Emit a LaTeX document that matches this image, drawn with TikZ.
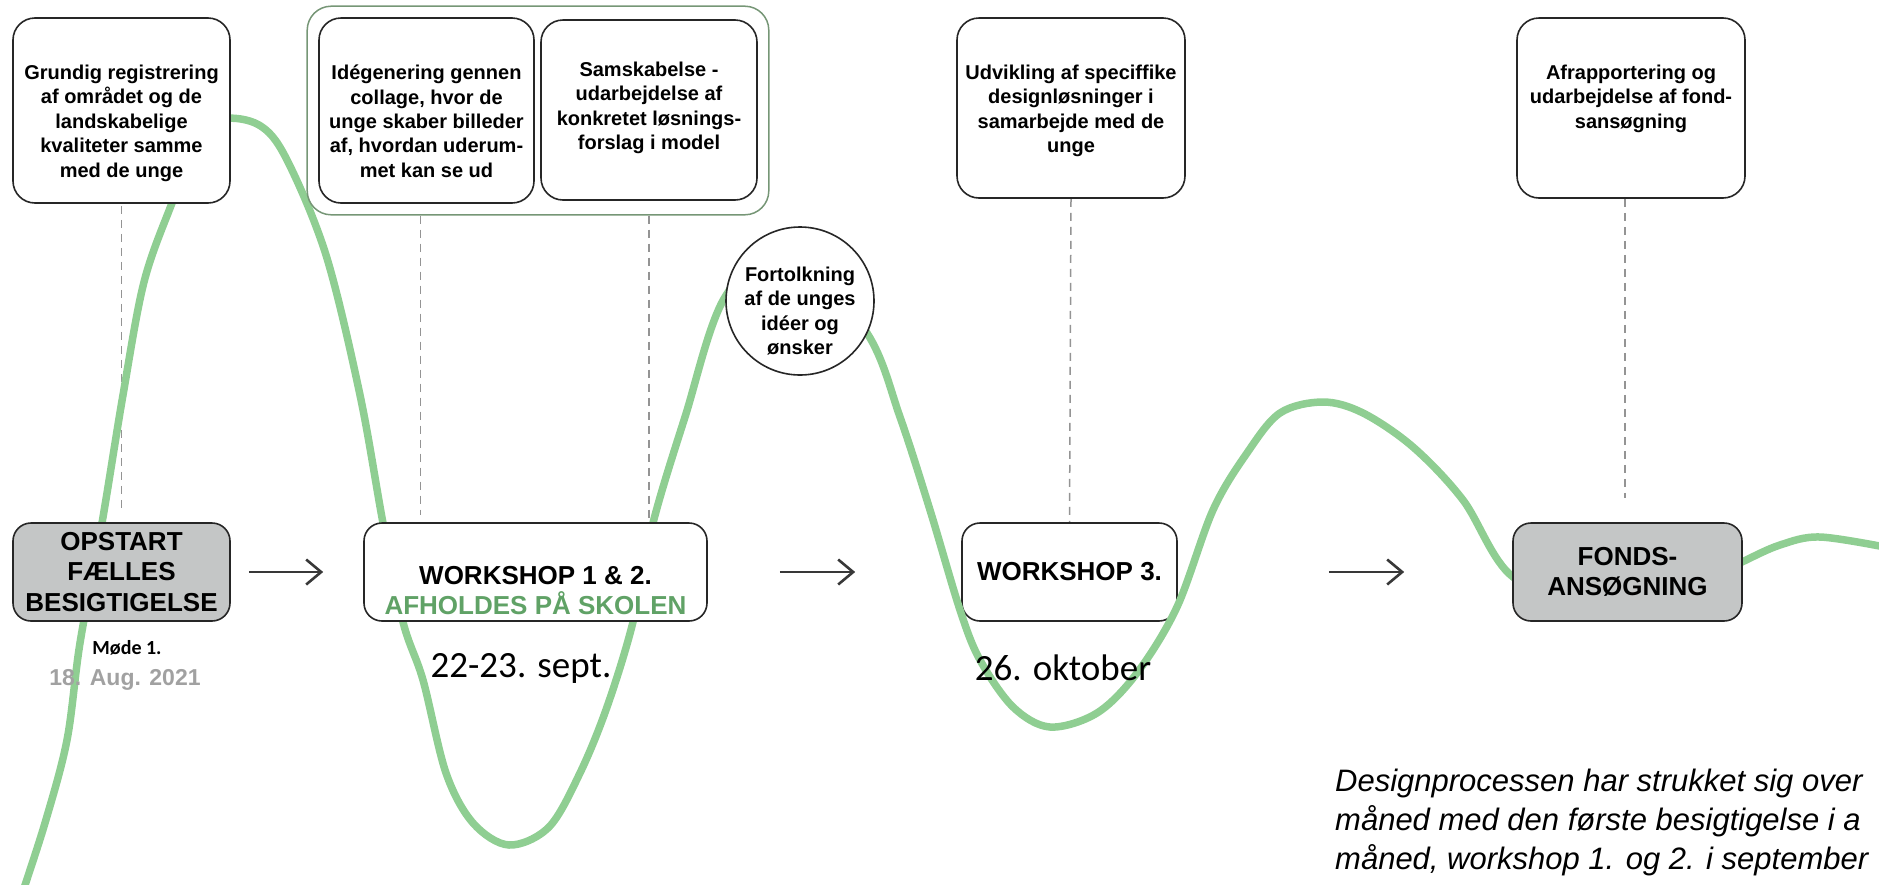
\documentclass[tikz,border=0pt]{standalone}
\usepackage{fontspec}
\setmainfont{Liberation Sans}
\newfontfamily\calibri{Carlito}
\usetikzlibrary{arrows.meta,fit,backgrounds}
\definecolor{curvegreen}{RGB}{143,206,146}
\definecolor{textgreen}{RGB}{96,162,102}
\definecolor{framegreen}{RGB}{118,150,118}
\definecolor{boxgray}{RGB}{196,198,198}
\newcommand{\toptext}[4]{\parbox[c][#2][t]{#1}{\vspace*{#3}\centering #4\par}}

\begin{document}
\begin{tikzpicture}[x=1pt, y=-1pt,
	topbox/.style={draw=black!85, line width=1.6pt, rounded corners=22pt, fill=white, inner sep=0pt,
		font=\bfseries\fontsize{20}{24.4}\selectfont},
	stagebox/.style={draw=black!85, line width=1.6pt, rounded corners=18pt, fill=white,
		minimum height=98pt, align=center, font=\bfseries\fontsize{26}{30.5}\selectfont},
	guide/.style={black!42, line width=1.5pt, dash pattern=on 8pt off 6pt},
	flow/.style={-{Straight Barb[length=15pt,width=25pt]}, line width=2.6pt, black!78},
	datelabel/.style={font=\calibri\fontsize{37}{40}\selectfont}]
		\useasboundingbox (0,0) rectangle (1879,884);
		
		\node[stagebox, minimum width=215pt] (ws3) at (1069.5,572) {WORKSHOP 3.};
		
		\draw[curvegreen, line width=7.5pt] plot[smooth, tension=0.55] coordinates {
			(20,900) (45,823) (67,740) (80,643) (102,523) (123,395) (144,282)
			(172,203) (198,140) (222,119) (259,125) (286,158) (326,255) (360,395)
			(383,523) (403,622) (423,680) (446,773) (473,823) (509,845) (549,827)
			(580,773) (607,707) (633,622) (653,523) (685,417) (725,297) (790,245)
			(867,333) (900,417) (930,510) (960,610) (980,660) (1013,707) (1050,727)
			(1097,713) (1137,673) (1177,607) (1213,510) (1247,453) (1280,413)
			(1323,402) (1363,413) (1413,447) (1463,500) (1513,577) (1600,604)
			(1690,588) (1742,562) (1780,545) (1820,537) (1890,548)};
		
		\node[topbox] (grundig) at (121.5,110.5) {\toptext{217pt}{185pt}{47pt}{Grundig registrering\\af området og de\\landskabelige\\kvaliteter samme\\med de unge}};
		\node[topbox] (idegen) at (426.5,110.5) {\toptext{215pt}{185pt}{47pt}{Idégenering gennen\\collage, hvor de\\unge skaber billeder\\af, hvordan uderum-\\met kan se ud}};
		\node[topbox] (samsk) at (649,110) {\toptext{216pt}{180pt}{42pt}{Samskabelse -\\udarbejdelse af\\konkretet løsnings-\\forslag i model}};
		\node[draw=framegreen, line width=1.5pt, rounded corners=24pt, inner sep=11pt, fit=(idegen)(samsk)] (grp) {};
		\node[topbox] (udvikl) at (1071,108) {\toptext{228pt}{180pt}{47pt}{Udvikling af speciffike\\designløsninger i\\samarbejde med de\\unge}};
		\node[topbox] (afrap) at (1631,108) {\toptext{228pt}{180pt}{47pt}{Afrapportering og\\udarbejdelse af fond-\\sansøgning}};
		\node[topbox, circle, minimum size=148pt] (fortolk) at (800,301) {\toptext{112pt}{80pt}{6pt}{Fortolkning\\af de unges\\idéer og\\ønsker}};
		
		\node[stagebox, fill=boxgray, minimum width=217pt] (opstart) at (121.5,572) {OPSTART\\FÆLLES\\BESIGTIGELSE};
		\node[stagebox, inner sep=0pt] (ws12) at (535.5,572) {\toptext{343pt}{98pt}{43pt}{WORKSHOP 1 \& 2.\\\textcolor{textgreen}{AFHOLDES PÅ SKOLEN}}};
		\node[stagebox, fill=boxgray, minimum width=229pt] (fonds) at (1627.5,572) {FONDS-\\ANSØGNING};
		
		\draw[flow] ([xshift=18pt]opstart.east) -- ([xshift=-40pt]ws12.west);
		\draw[flow] ([xshift=72pt]ws12.east) -- ([xshift=-106pt]ws3.west);
		\draw[flow] ([xshift=151pt]ws3.east) -- ([xshift=-108pt]fonds.west);
		
		\node[font=\calibri\bfseries\fontsize{20}{22}\selectfont] (mode) at (127,648) {Møde 1.};
		\node[font=\bfseries\fontsize{23}{25}\selectfont, text=black!37] (dato1) at (125,680) {18. Aug. 2021};
		\node[datelabel] (dato2) at (521,668) {22-23. sept.};
		\node[datelabel] (dato3) at (1063,668) {26. oktober};
		\node[anchor=north west, align=left, inner sep=0pt, font=\itshape\fontsize{31}{39}\selectfont] (note) at (1335,769)
			{Designprocessen har strukket sig over\\måned med den første besigtigelse i a\\måned, workshop 1. og 2. i september};
		
		\begin{scope}[on background layer]
		\draw[guide, shorten <=2pt, shorten >=13pt] (grundig.south) -- (opstart.north);
		\draw[guide, shorten >=7pt] ([xshift=-6pt]idegen.south |- grp.south) -- ([xshift=-6pt]idegen.south |- ws12.north);
		\draw[guide, shorten >=4pt] (samsk.south |- grp.south) -- (samsk.south |- ws12.north);
		\draw[guide] (udvikl.south) -- (ws3.north);
		\draw[guide, shorten >=24pt] ([xshift=-6pt]afrap.south) -- ([xshift=-6pt]afrap.south |- fonds.north);
		\end{scope}
		
\end{tikzpicture}
\end{document}
